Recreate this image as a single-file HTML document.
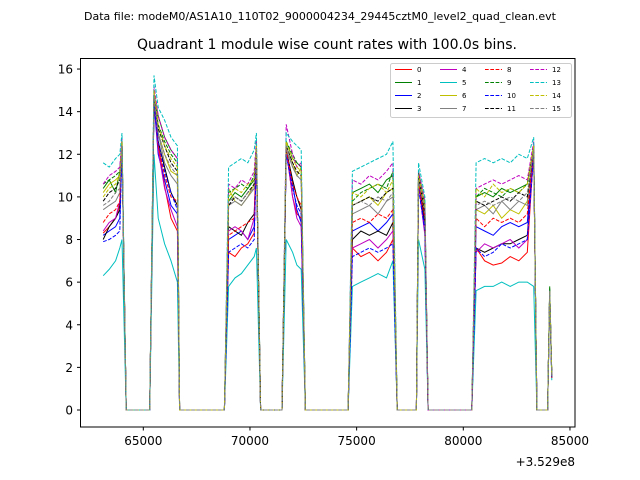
<!DOCTYPE html>
<html><head><meta charset="utf-8"><style>
body{margin:0;background:#fff;}
svg{display:block;font-family:"DejaVu Sans","Liberation Sans",sans-serif;}
</style></head><body>
<svg id="chart" width="640" height="480">
<text x="320" y="20" font-size="11" text-anchor="middle">Data file: modeM0/AS1A10_110T02_9000004234_29445cztM0_level2_quad_clean.evt</text>
<text x="327" y="49" font-size="14" text-anchor="middle">Quadrant 1 module wise count rates with 100.0s bins.</text>
<g id="plot"></g>
<rect x="80.5" y="58.5" width="494.5" height="368.5" fill="none" stroke="#000" stroke-width="1"/>
<g id="axes"></g>
<text x="575" y="466" font-size="12" text-anchor="end">+3.529e8</text>
<g id="legend"></g>
</svg>
<script>
const T=[63120,63400,63700,63900,64000,64200,65300,65500,65700,66000,66300,66600,66700,68800,69000,69300,69600,69900,70200,70300,70500,71500,71700,72000,72200,72400,72600,74600,74800,75200,75600,76000,76400,76700,76900,77800,77900,78200,78350,80400,80600,81000,81400,81800,82200,82600,83000,83300,83450,83950,84050,84150];
const s0=[8.3,8.6,9.0,9.6,12.4,0,0,14.5,12.5,10.5,9.0,8.4,0,0,7.4,7.2,7.6,7.8,8.3,12.0,0,0,12.2,10.0,9.2,9.0,0,0,7.6,7.2,7.4,7.0,7.4,8.0,0,0,10.8,8.8,0,0,7.6,7.0,6.8,6.9,7.2,7.0,7.4,12.2,0,0,5.4,1.6];
const s1=[10.4,10.8,10.2,11.2,12.6,0,0,14.8,13.8,12.8,12.2,11.8,0,0,9.8,10.2,10.0,10.4,10.8,12.4,0,0,12.6,11.8,11.6,11.4,0,0,10.2,10.4,10.6,10.2,10.8,11.0,0,0,11.2,9.6,0,0,10.0,10.2,10.0,10.4,10.2,10.4,10.6,12.4,0,0,5.8,1.6];
const s2=[8.2,8.4,8.6,9.0,12.4,0,0,14.4,12.0,10.8,9.6,9.2,0,0,8.0,8.2,8.4,8.0,8.6,12.0,0,0,12.0,10.6,9.4,8.8,0,0,8.4,8.6,8.8,8.4,8.8,9.2,0,0,10.6,8.6,0,0,8.6,8.4,8.2,8.6,8.8,8.6,8.8,12.2,0,0,5.4,1.5];
const s3=[8.0,8.6,9.0,9.4,12.4,0,0,14.6,12.6,11.4,10.2,9.6,0,0,8.6,8.4,8.2,8.8,9.2,12.0,0,0,12.2,10.8,10.0,9.4,0,0,8.0,8.4,8.2,8.4,8.2,8.8,0,0,10.8,8.8,0,0,7.6,7.4,7.6,7.8,7.8,8.0,8.2,12.0,0,0,5.6,1.6];
const s4=[8.4,8.8,9.0,9.8,12.4,0,0,14.8,12.2,10.4,9.4,8.6,0,0,8.4,8.6,8.4,8.0,9.0,12.0,0,0,12.2,10.0,9.0,8.6,0,0,7.6,7.8,8.0,7.6,8.0,8.4,0,0,10.6,8.2,0,0,7.4,7.8,7.6,7.8,8.0,7.6,8.0,12.0,0,0,5.4,1.5];
const s5=[6.3,6.6,7.0,7.6,8.0,0,0,12.0,9.0,7.8,7.0,6.0,0,0,5.8,6.2,6.4,6.8,7.2,7.6,0,0,8.0,7.4,6.8,6.6,0,0,5.8,6.0,6.2,6.4,6.2,7.0,0,0,8.0,6.6,0,0,5.6,5.8,5.8,6.0,5.8,6.0,6.0,5.8,0,0,5.2,1.4];
const s6=[10.2,10.6,10.8,11.0,12.6,0,0,15.0,13.0,12.0,11.2,11.0,0,0,10.4,9.8,9.6,10.0,10.6,12.4,0,0,12.4,11.6,11.0,11.4,0,0,9.6,9.8,10.0,9.6,10.2,10.4,0,0,11.0,9.4,0,0,9.4,9.2,9.6,9.0,9.4,9.2,9.8,12.4,0,0,5.6,1.6];
const s7=[9.4,9.6,9.8,10.2,12.4,0,0,14.6,13.0,11.6,11.0,10.6,0,0,9.6,9.8,9.6,10.0,10.4,12.2,0,0,12.2,11.4,11.0,10.8,0,0,9.2,9.4,9.6,9.2,9.8,10.0,0,0,10.8,9.2,0,0,9.4,9.6,9.2,9.8,9.4,9.8,9.6,12.4,0,0,5.6,1.5];
const s8=[8.8,9.2,9.4,9.8,12.4,0,0,14.6,12.4,11.0,10.0,9.8,0,0,8.2,8.4,8.6,8.8,9.0,12.0,0,0,12.2,10.6,10.0,9.6,0,0,8.8,9.0,8.8,9.2,9.0,9.4,0,0,10.6,9.0,0,0,9.0,8.6,9.0,8.8,9.0,8.8,9.2,12.2,0,0,5.4,1.5];
const s9=[10.6,10.8,11.0,11.2,12.6,0,0,14.8,13.4,12.6,12.0,11.6,0,0,10.2,10.4,10.6,10.4,11.0,12.6,0,0,12.6,12.0,11.6,11.4,0,0,9.8,10.2,10.4,10.6,10.4,11.2,0,0,11.0,9.6,0,0,10.0,10.4,10.2,10.0,10.4,10.2,10.6,12.4,0,0,5.7,1.6];
const s10=[7.9,8.0,8.2,8.4,12.2,0,0,14.4,12.6,11.2,10.2,9.4,0,0,7.4,7.6,7.8,7.6,8.0,11.8,0,0,12.0,10.4,9.6,9.2,0,0,7.2,7.4,7.6,7.4,7.6,7.8,0,0,10.4,8.4,0,0,7.6,7.2,7.4,7.8,7.6,7.8,8.0,12.0,0,0,5.4,1.5];
const s11=[9.8,10.2,10.4,10.8,12.4,0,0,14.8,13.2,12.4,11.6,11.2,0,0,9.6,10.0,9.8,10.2,10.6,12.2,0,0,12.4,11.6,11.2,11.0,0,0,9.6,9.8,10.0,9.8,10.2,10.4,0,0,11.0,9.2,0,0,9.8,9.6,9.8,10.0,9.8,10.2,10.0,12.2,0,0,5.6,1.6];
const s12=[10.6,11.0,11.2,11.4,12.8,0,0,15.2,13.8,12.8,12.2,11.8,0,0,10.6,10.4,10.8,10.6,11.2,12.6,0,0,13.4,12.0,11.4,11.6,0,0,10.8,10.6,11.0,10.8,11.2,11.6,0,0,11.2,9.8,0,0,10.4,10.6,10.8,10.6,10.8,11.0,10.8,12.6,0,0,5.6,1.6];
const s13=[11.6,11.4,11.8,12.0,13.0,0,0,15.7,14.2,13.6,12.8,12.4,0,0,11.4,11.6,11.8,11.6,12.2,13.0,0,0,13.0,12.6,12.4,12.2,0,0,11.2,11.4,11.6,11.8,12.0,12.6,0,0,11.6,10.0,0,0,11.6,11.8,11.6,11.8,11.6,12.0,11.8,12.8,0,0,5.6,1.6];
const s14=[10.0,10.4,10.6,11.0,12.6,0,0,15.0,13.4,12.4,11.8,11.4,0,0,10.0,10.4,10.2,10.6,10.8,12.4,0,0,12.6,11.8,11.4,11.2,0,0,10.2,10.0,10.4,10.6,10.2,10.8,0,0,11.0,9.6,0,0,10.4,10.0,10.6,10.2,10.4,10.2,10.6,12.4,0,0,5.6,1.6];
const s15=[9.6,9.8,10.2,10.4,12.4,0,0,14.8,13.0,12.0,11.4,11.0,0,0,9.8,10.0,9.8,10.2,10.4,12.2,0,0,12.4,11.4,11.0,10.8,0,0,9.6,9.8,9.6,10.0,9.8,10.2,0,0,10.8,9.4,0,0,9.6,9.8,9.6,9.8,10.0,9.8,10.2,12.2,0,0,5.6,1.5];
const seriesLabels=["0","1","2","3","4","5","6","7","8","9","10","11","12","13","14","15"];
const xTicks=[65000,70000,75000,80000,85000];
const yTicks=[0,2,4,6,8,10,12,14,16];

const SERIES=[s0,s1,s2,s3,s4,s5,s6,s7,s8,s9,s10,s11,s12,s13,s14,s15];
const COLORS=["#ff0000","#008000","#0000ff","#000000","#bf00bf","#00bfbf","#bfbf00","#808080"];
const NS="http://www.w3.org/2000/svg";
function xs(t){return 143.3+(t-65000)*0.021333;}
function ys(v){return 410-v*21.31;}
function mk(tag,attrs,parent){const e=document.createElementNS(NS,tag);for(const k in attrs)e.setAttribute(k,attrs[k]);parent.appendChild(e);return e;}
const plot=document.getElementById('plot');
SERIES.forEach((s,i)=>{
  const d=s.map((v,j)=>(j?'L':'M')+xs(T[j]).toFixed(1)+' '+ys(v).toFixed(1)).join('');
  const p=mk('path',{d:d,fill:'none',stroke:COLORS[i%8],'stroke-width':1},plot);
  if(i>=8)p.setAttribute('stroke-dasharray','3.7,1.6');
  
  
});
const axes=document.getElementById('axes');
xTicks.forEach(t=>{
  const x=xs(t);
  const l=mk('line',{x1:x,x2:x,y1:427,y2:430.5,stroke:'#000'},axes);
  
  
  const tx=mk('text',{x:x,y:445,'font-size':12,'text-anchor':'middle'},axes);
  tx.textContent=t;
  
  
});
yTicks.forEach(v=>{
  const y=ys(v);
  const l=mk('line',{x1:77,x2:80.5,y1:y,y2:y,stroke:'#000'},axes);
  
  
  const tx=mk('text',{x:73,y:y+4.5,'font-size':12,'text-anchor':'end'},axes);
  tx.textContent=v;
  
  
});
const lg=document.getElementById('legend');
const box=mk('rect',{x:390.5,y:63.5,width:181,height:54,rx:2,fill:'#fff','fill-opacity':0.8,stroke:'#ccc'},lg);


seriesLabels.forEach((lab,i)=>{
  const col=Math.floor(i/4),row=i%4;
  const x0=395+col*45,y0=69.5+row*13;
  const l=mk('line',{x1:x0,x2:x0+17,y1:y0,y2:y0,stroke:COLORS[i%8],'stroke-width':1},lg);
  if(i>=8)l.setAttribute('stroke-dasharray','3.7,1.6');
  
  
  const t=mk('text',{x:x0+22,y:y0+2.5,'font-size':7},lg);
  t.textContent=lab;
  
  
});
</script>
</body></html>
